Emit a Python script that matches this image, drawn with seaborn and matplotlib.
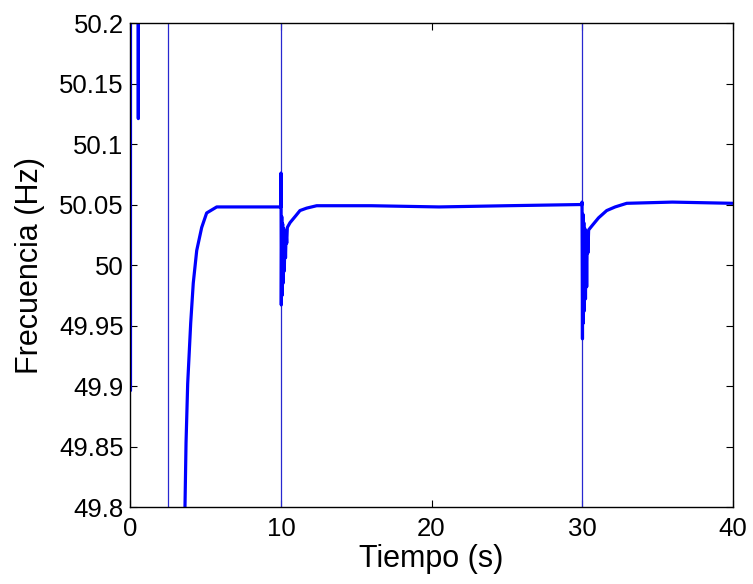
"""
plot.py - frecuencia del sistema tras los eventos de conmutación
"""
import numpy as np
import pandas as pd
import matplotlib
matplotlib.use('Agg')
import matplotlib.pyplot as plt
import seaborn as sns

# --- data (values off-scale are kept at 50.4 / 49.6) ---
seg_0_t = [0.0, 0.0]
seg_0_f = [49.897, 50.4]

seg_1_t = [0.50, 0.52, 0.54]
seg_1_f = [50.4, 50.121, 50.4]

seg_2_t = [3.60, 3.62, 3.69, 3.80, 4.00, 4.17, 4.40, 4.73, 5.06, 5.73, 8.0, 10.0,
           10.0, 10.02, 10.05, 10.08, 10.11, 10.14, 10.18, 10.22, 10.26, 10.30, 10.34,
           10.38, 10.42, 10.6, 11.0, 11.26, 11.7, 12.37, 16.0, 20.5, 25.0, 30.0,
           30.0, 30.03, 30.06, 30.09, 30.12, 30.15, 30.19, 30.23, 30.27, 30.31, 30.35,
           30.39, 30.44, 30.7, 31.1, 31.64, 32.2, 32.97, 36.0, 40.0]
seg_2_f = [49.6, 49.8, 49.853, 49.902, 49.952, 49.985, 50.012, 50.031, 50.043, 50.048, 50.048, 50.048,
           50.076, 49.967, 50.040, 49.975, 50.034, 49.985, 50.030, 49.995, 50.027, 50.006, 50.027,
           50.018, 50.031, 50.035, 50.041, 50.045, 50.047, 50.049, 50.049, 50.048, 50.049, 50.050,
           50.052, 49.939, 50.042, 49.952, 50.035, 49.962, 50.030, 49.972, 50.028, 49.982, 50.027,
           50.010, 50.029, 50.033, 50.039, 50.045, 50.048, 50.051, 50.052, 50.051]

# switching instants: the trace crosses the whole window there
t_switch = [2.49, 10.0, 30.0]

x_ticks = [0, 10, 20, 30, 40]
y_ticks = [49.8, 49.85, 49.9, 49.95, 50.0, 50.05, 50.1, 50.15, 50.2]
y_tick_labels = ['49.8', '49.85', '49.9', '49.95', '50', '50.05', '50.1', '50.15', '50.2']

segments = [(seg_0_t, seg_0_f), (seg_1_t, seg_1_f), (seg_2_t, seg_2_f)]
df = pd.concat([pd.DataFrame({'t': t, 'f': f, 'seg': i}) for i, (t, f) in enumerate(segments)],
               ignore_index=True)

sns.set_style('ticks')
plt.rcParams['font.family'] = ['Liberation Sans', 'DejaVu Sans']
plt.rcParams['xtick.direction'] = 'in'
plt.rcParams['ytick.direction'] = 'in'

fig = plt.figure(figsize=(7.53, 5.84), dpi=100)
ax = fig.add_axes([0.1733, 0.1318, 0.7995, 0.8288])

for ts in t_switch:
    ax.axvline(ts, color='#2828d0', lw=0.9, zorder=1)

sns.lineplot(data=df, x='t', y='f', units='seg', estimator=None, sort=False,
             color='blue', lw=2.3, ax=ax, legend=False, zorder=2)

ax.set_xlim(0, 40)
ax.set_ylim(49.8, 50.2)
ax.set_xticks(x_ticks)
ax.set_xticklabels([str(v) for v in x_ticks])
ax.set_yticks(y_ticks)
ax.set_yticklabels(y_tick_labels)
ax.tick_params(axis='both', labelsize=18.5, length=5, width=0.8, color='black',
               labelcolor='black', top=True, right=True)
ax.tick_params(axis='y', pad=5)
ax.tick_params(axis='x', pad=7)
for sp in ax.spines.values():
    sp.set_color('black')
    sp.set_linewidth(1.0)

ax.set_xlabel('Tiempo (s)', fontsize=22, labelpad=2, color='black')
ax.set_ylabel('Frecuencia (Hz)', fontsize=22, labelpad=10, color='black')

fig.savefig('out.png', dpi=100)
plt.close(fig)
